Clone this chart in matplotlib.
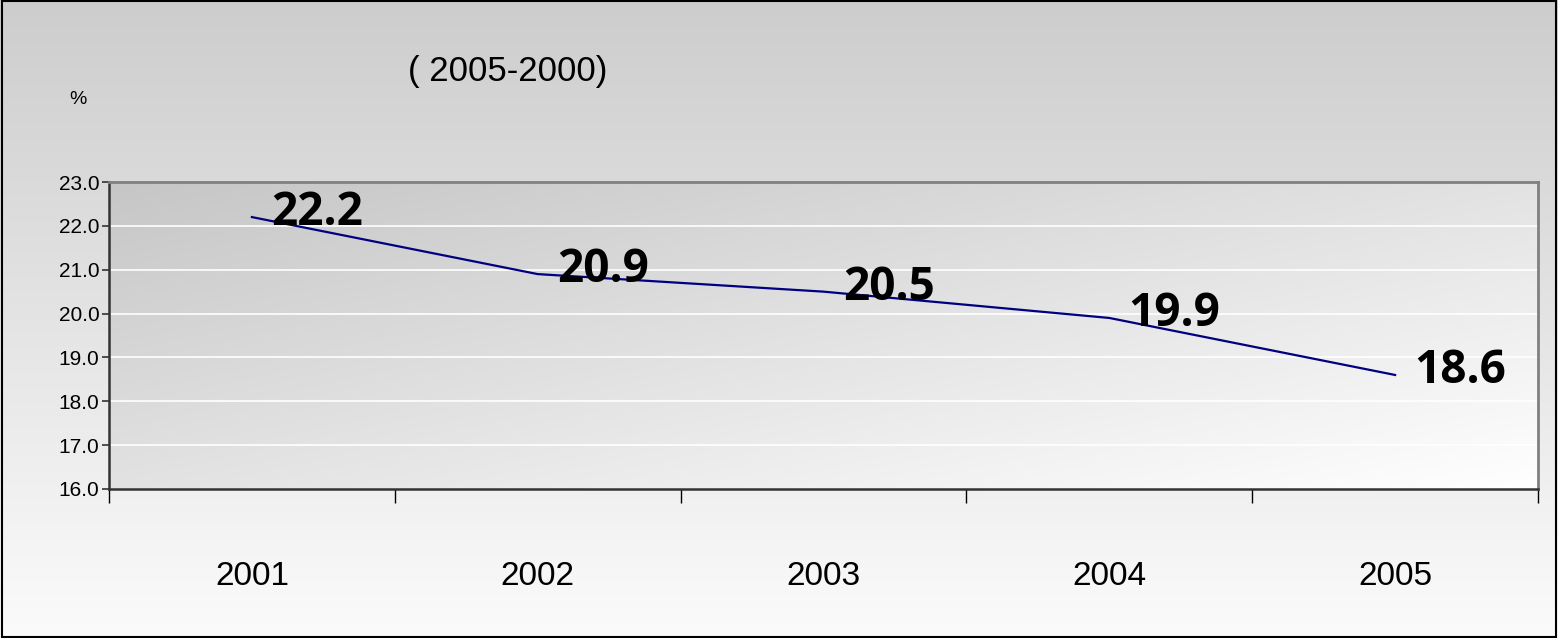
import numpy as np
import matplotlib
matplotlib.use('Agg')
import matplotlib.pyplot as plt
from matplotlib.colors import LinearSegmentedColormap
from matplotlib.patches import Rectangle

years = ['2001', '2002', '2003', '2004', '2005']
rate = [22.2, 20.9, 20.5, 19.9, 18.6]
title_text = '( 2005-2000)'
unit_text = '%'

arial = ['Liberation Sans', 'DejaVu Sans']
label_font = ['Open Sans', 'DejaVu Sans']

fig = plt.figure(figsize=(15.58, 6.38), dpi=100)

# figure background, vertical grey gradient
bg = fig.add_axes([0, 0, 1, 1], zorder=-10)
grey_bg = LinearSegmentedColormap.from_list('bg', ['#cdcdcd', '#fbfbfb'])
bg.imshow(np.linspace(0, 1, 256).reshape(-1, 1), cmap=grey_bg, aspect='auto',
          extent=[0, 1, 0, 1])
bg.set_axis_off()
fig.patches.append(Rectangle((0.001, 0.002), 0.998, 0.996, transform=fig.transFigure,
                             fill=False, edgecolor='black', linewidth=1.5))

ax = fig.add_axes([109 / 1558, 149 / 638, 1429 / 1558, 307 / 638])
x = np.arange(len(years))

# plot area diagonal gradient
xx, yy = np.meshgrid(np.linspace(0, 1, 200), np.linspace(0, 1, 200))
grad = (xx + yy) / 2
plot_bg = LinearSegmentedColormap.from_list('pa', ['#c6c6c6', '#ffffff'])
ax.imshow(grad, cmap=plot_bg, aspect='auto', extent=[0, 1, 0, 1],
          transform=ax.transAxes, zorder=0, origin='upper')

ax.plot(x, rate, color='#000080', linewidth=1.6, zorder=3)
for xi, v in zip(x, rate):
  ax.annotate(f'{v:.1f}', (xi, v), xytext=(14, 3), textcoords='offset points',
              ha='left', va='center', fontsize=33, fontweight='bold',
              family=label_font, zorder=4)

ax.set_xlim(-0.5, len(years) - 0.5)
ax.set_ylim(16, 23)
ax.set_yticks(np.arange(16, 24, 1))
ax.set_yticklabels([f'{v:.1f}' for v in np.arange(16, 24, 1)], family=arial, fontsize=15)
for gy in range(17, 23):
  ax.axhline(gy, color='white', linewidth=1.2, zorder=1)

ax.set_xticks(np.arange(-0.5, len(years), 1))
ax.set_xticklabels([])
ax.set_xticks(x, minor=True)
ax.set_xticklabels(years, minor=True, family=arial, fontsize=24)
ax.tick_params(axis='x', which='major', length=10, width=1, color='black', direction='out')
ax.tick_params(axis='x', which='minor', length=0, pad=52)
ax.tick_params(axis='y', length=5, width=1.2, color='#333333', pad=2)

for side in ['top', 'right']:
  ax.spines[side].set_color('#808080')
  ax.spines[side].set_linewidth(2)
for side in ['left', 'bottom']:
  ax.spines[side].set_color('#333333')
  ax.spines[side].set_linewidth(1.8)

fig.text(508 / 1558, 1 - 71 / 638, title_text, family=arial, fontsize=25,
         ha='center', va='center')
fig.text(78 / 1558, 1 - 100 / 638, unit_text, family=arial, fontsize=14,
         ha='center', va='center')

fig.savefig('out.png', dpi=100)
